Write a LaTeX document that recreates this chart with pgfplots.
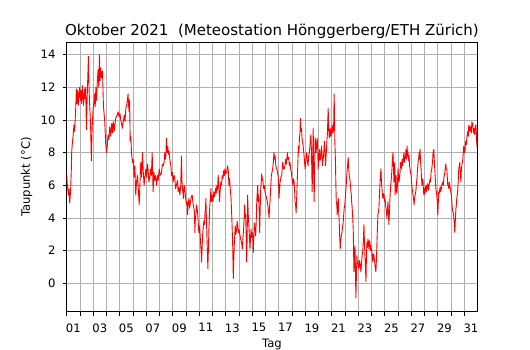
\documentclass[border=0pt]{standalone}
\usepackage{fontspec}
\setmainfont{DejaVu Sans}
\usepackage{pgfplots}
\pgfplotsset{compat=1.18}
\begin{document}
\begin{tikzpicture}
\begin{axis}[
  at={(0,0)}, anchor=south west,
  scale only axis, width=410.6pt, height=269.4pt,
  xmin=0, xmax=30.98, ymin=-1.74, ymax=14.76,
  axis line style={line width=1pt},
  tick align=outside,
  xtick pos=bottom, ytick pos=left,
  major tick length=4pt, minor tick length=4pt,
  tick style={black, line width=0.9pt},
  xtick={0.5,2.5,4.5,6.5,8.5,10.5,12.5,14.5,16.5,18.5,20.5,22.5,24.5,26.5,28.5,30.5},
  xticklabels={01,03,05,07,09,11,13,15,17,19,21,23,25,27,29,31},
  minor xtick={0,1,...,30},
  major x tick style={draw=none},
  xmajorgrids=false, xminorgrids=true,
  ytick={0,2,...,14},
  ymajorgrids=true,
  grid style={color=black!31, line width=0.9pt},
  minor grid style={color=black!31, line width=0.9pt},
  /pgf/number format/assume math mode=true,
  xticklabel style={font=\fontsize{11.6}{13}\selectfont, anchor=north, inner sep=0pt, yshift=-7.6pt},
  yticklabel style={font=\fontsize{11.6}{13}\selectfont, anchor=east, inner sep=0pt, xshift=-7pt},
  xlabel={Tag},
  xlabel style={font=\fontsize{11.6}{13}\selectfont, at={(axis description cs:0.5,-0.1347)}, anchor=base, yshift=0pt, xshift=0pt},
  ylabel={Taupunkt (°C)},
  ylabel style={font=\fontsize{11.6}{13}\selectfont, at={(axis description cs:-0.0894,0.5)}, anchor=base, rotate=0, xshift=0pt, yshift=0pt},
  title={Oktober 2021\ \ (Meteostation Hönggerberg/ETH Zürich)},
  title style={font=\fontsize{15}{18}\selectfont, at={(axis description cs:0.5,1.0011)}, anchor=base, yshift=0pt},
]
\addplot[color=red, line width=0.9pt, line join=round, mark=none] table {
0.00 6.7
0.05 6.0
0.13 5.4
0.18 5.8
0.23 4.9
0.30 5.8
0.35 7.0
0.38 8.1
0.43 8.6
0.48 9.0
0.55 9.7
0.60 9.3
0.68 10.7
0.73 11.9
0.78 11.0
0.83 11.8
0.88 10.9
0.93 11.6
0.98 12.0
1.03 11.2
1.08 11.8
1.13 11.0
1.18 12.1
1.23 11.4
1.28 10.9
1.33 11.9
1.38 11.3
1.43 12.0
1.49 9.4
1.55 11.5
1.64 13.9
1.69 11.8
1.74 10.8
1.80 9.8
1.86 7.5
1.92 9.5
1.99 10.7
2.05 11.0
2.10 11.6
2.15 10.8
2.20 12.0
2.25 11.2
2.30 12.2
2.37 13.1
2.42 12.0
2.47 14.0
2.52 12.4
2.57 13.2
2.62 12.6
2.70 13.0
2.77 10.9
2.87 9.9
2.94 8.6
3.00 8.0
3.06 8.4
3.12 9.1
3.18 8.8
3.25 9.6
3.32 9.0
3.40 9.8
3.45 9.2
3.52 9.9
3.58 9.3
3.65 9.8
3.70 10.1
3.80 10.3
3.88 10.5
3.95 10.2
4.02 10.4
4.08 10.0
4.14 9.8
4.20 9.5
4.28 10.0
4.35 10.3
4.40 9.9
4.46 10.7
4.55 11.0
4.63 11.6
4.67 10.9
4.71 10.5
4.75 11.2
4.79 8.7
4.84 9.0
4.89 8.0
4.96 7.4
5.02 7.6
5.08 6.5
5.14 7.2
5.21 5.4
5.27 6.2
5.34 6.6
5.40 5.8
5.47 4.8
5.52 6.0
5.59 7.4
5.65 6.5
5.72 8.0
5.78 6.8
5.84 6.0
5.90 6.5
5.97 7.0
6.03 6.5
6.08 7.3
6.14 7.0
6.20 6.2
6.27 6.5
6.33 7.0
6.39 6.6
6.45 8.0
6.52 5.6
6.58 6.8
6.64 6.3
6.70 6.6
6.78 6.0
6.85 6.6
6.90 6.3
6.98 7.0
7.05 6.6
7.15 6.8
7.22 7.3
7.28 7.2
7.35 7.4
7.40 8.0
7.47 7.6
7.53 8.9
7.57 8.0
7.62 8.4
7.68 7.9
7.72 8.1
7.78 7.6
7.86 7.2
7.91 6.6
7.97 6.8
8.03 6.2
8.10 6.6
8.16 6.4
8.22 5.8
8.28 6.0
8.35 6.3
8.41 5.6
8.48 5.9
8.54 5.4
8.60 5.9
8.66 7.8
8.70 6.2
8.74 5.8
8.81 5.2
8.86 6.0
8.91 5.8
8.97 5.2
9.04 4.8
9.08 5.0
9.12 4.2
9.17 4.9
9.22 5.2
9.28 4.6
9.34 5.0
9.40 5.3
9.47 5.4
9.53 4.9
9.59 4.6
9.64 4.4
9.67 3.1
9.71 4.0
9.75 4.2
9.80 4.8
9.87 4.4
9.92 3.8
9.97 3.1
10.03 3.5
10.10 2.5
10.14 2.0
10.17 1.3
10.21 2.0
10.25 2.9
10.30 3.4
10.35 3.8
10.40 3.6
10.43 4.2
10.47 4.6
10.50 5.2
10.54 4.0
10.58 2.9
10.62 1.8
10.65 0.9
10.69 2.0
10.73 3.3
10.77 4.2
10.80 4.8
10.84 5.2
10.88 5.8
10.92 5.0
10.98 5.4
11.04 5.0
11.10 5.6
11.16 5.3
11.23 5.8
11.28 5.5
11.33 6.0
11.38 5.7
11.43 6.6
11.48 6.0
11.53 5.0
11.58 5.7
11.63 6.2
11.68 6.0
11.74 6.6
11.79 6.4
11.84 6.9
11.89 6.6
11.94 7.0
12.00 6.7
12.06 6.8
12.10 7.0
12.14 7.2
12.19 6.9
12.24 6.0
12.29 6.4
12.34 5.8
12.40 5.2
12.45 4.2
12.52 2.5
12.57 0.3
12.61 1.5
12.65 2.5
12.72 3.5
12.77 3.0
12.82 3.3
12.86 3.8
12.90 3.6
12.95 3.1
13.00 3.3
13.06 3.0
13.13 2.7
13.19 2.5
13.25 2.1
13.29 2.7
13.33 3.1
13.38 3.8
13.43 4.8
13.47 4.0
13.50 4.2
13.54 3.0
13.58 1.3
13.62 3.0
13.65 5.4
13.70 4.2
13.76 3.3
13.80 2.6
13.83 2.1
13.87 2.8
13.91 3.3
13.96 2.8
14.01 3.1
14.05 2.6
14.08 1.9
14.12 2.9
14.16 3.7
14.21 3.3
14.26 2.9
14.30 3.8
14.34 5.0
14.38 5.6
14.41 6.0
14.45 5.0
14.49 5.4
14.53 4.2
14.56 3.1
14.60 4.6
14.64 5.8
14.68 6.2
14.71 6.7
14.76 6.4
14.81 6.2
14.86 5.8
14.91 6.0
14.96 5.6
15.02 5.4
15.08 5.2
15.14 5.0
15.20 4.6
15.27 4.0
15.30 4.6
15.34 5.0
15.39 5.8
15.44 6.6
15.49 6.8
15.54 7.0
15.59 7.4
15.64 8.0
15.68 7.6
15.72 7.8
15.78 7.2
15.85 7.0
15.90 6.8
15.95 6.6
15.99 6.0
16.02 5.2
16.06 5.8
16.10 6.2
16.16 6.5
16.22 6.6
16.26 7.0
16.30 7.4
16.36 7.0
16.43 7.0
16.48 7.3
16.53 7.6
16.58 7.3
16.65 8.0
16.70 7.6
16.75 7.7
16.80 7.2
16.85 7.4
16.90 7.0
16.95 6.8
17.00 6.4
17.06 6.0
17.11 6.4
17.16 6.2
17.20 5.6
17.23 5.0
17.27 4.8
17.31 4.3
17.36 5.4
17.41 6.6
17.45 7.6
17.48 8.4
17.52 8.0
17.56 8.9
17.60 9.2
17.63 10.1
17.67 9.3
17.71 9.5
17.75 9.0
17.78 8.7
17.84 8.4
17.89 8.0
17.94 7.5
17.99 7.0
18.05 7.6
18.11 8.0
18.16 7.5
18.21 7.2
18.26 7.8
18.31 8.0
18.36 8.5
18.42 9.1
18.47 8.0
18.52 5.6
18.56 7.5
18.60 9.5
18.63 7.0
18.67 5.0
18.71 7.2
18.75 8.9
18.78 8.3
18.82 8.0
18.86 8.6
18.90 8.9
18.94 8.2
18.97 7.0
19.03 7.8
19.08 8.2
19.11 7.5
19.15 7.6
19.19 8.0
19.23 8.4
19.27 7.8
19.30 7.2
19.34 7.6
19.38 7.8
19.41 8.2
19.45 8.7
19.49 8.0
19.53 7.2
19.57 7.8
19.60 8.2
19.64 8.8
19.68 9.3
19.70 10.0
19.73 10.7
19.77 9.5
19.81 8.9
19.84 9.3
19.88 9.5
19.92 9.0
19.96 9.1
20.00 9.5
20.03 9.7
20.07 9.2
20.11 9.3
20.14 9.6
20.18 11.6
20.21 10.0
20.23 8.7
20.28 7.4
20.31 6.0
20.34 5.0
20.38 4.8
20.41 4.2
20.45 4.8
20.49 5.2
20.52 4.4
20.56 3.8
20.60 2.8
20.64 2.1
20.67 2.6
20.71 2.9
20.75 3.0
20.79 3.3
20.82 3.5
20.86 3.7
20.90 4.2
20.94 4.6
20.98 4.8
21.02 5.2
21.05 5.6
21.09 6.0
21.13 6.6
21.17 7.0
21.21 7.4
21.24 7.7
21.28 7.0
21.32 6.6
21.36 6.4
21.39 6.2
21.43 5.8
21.47 5.4
21.50 5.0
21.54 4.6
21.58 4.0
21.62 3.3
21.65 1.8
21.67 0.7
21.71 1.6
21.75 2.3
21.78 1.0
21.82 -0.9
21.86 0.5
21.90 1.7
21.93 1.2
21.97 1.3
22.01 1.0
22.05 0.9
22.09 1.4
22.12 1.3
22.16 1.0
22.20 0.7
22.24 1.2
22.27 1.5
22.31 1.8
22.35 2.1
22.39 2.8
22.43 3.6
22.46 2.6
22.50 1.7
22.54 1.0
22.58 0.1
22.61 1.4
22.65 2.5
22.69 2.2
22.73 2.7
22.77 2.4
22.80 2.1
22.84 2.6
22.88 2.5
22.92 2.0
22.95 2.3
22.99 2.1
23.03 1.9
23.07 1.5
23.10 1.3
23.14 1.8
23.18 1.7
23.22 1.4
23.26 1.1
23.29 0.9
23.33 0.7
23.37 1.5
23.41 2.5
23.45 3.5
23.48 4.2
23.52 4.4
23.56 4.6
23.60 5.5
23.64 6.2
23.67 6.6
23.71 7.0
23.75 6.2
23.79 5.8
23.82 5.4
23.86 5.2
23.90 5.5
23.94 5.4
23.98 5.0
24.01 5.2
24.05 4.9
24.09 4.6
24.12 4.4
24.16 4.0
24.20 4.5
24.24 5.0
24.27 4.4
24.31 3.6
24.35 4.4
24.39 5.2
24.43 5.8
24.47 6.2
24.51 6.6
24.54 7.0
24.58 7.6
24.62 8.0
24.66 7.0
24.69 6.2
24.72 6.8
24.75 7.4
24.78 5.4
24.81 6.6
24.85 6.6
24.88 5.6
24.92 5.5
24.96 6.2
25.00 7.0
25.04 6.4
25.08 6.2
25.12 6.6
25.15 6.8
25.19 7.4
25.23 7.2
25.27 7.0
25.30 7.6
25.34 7.2
25.38 7.4
25.42 7.8
25.45 8.0
25.49 7.4
25.53 7.6
25.57 7.8
25.60 8.2
25.64 7.6
25.68 8.4
25.72 7.8
25.76 8.0
25.80 7.5
25.83 7.8
25.87 7.2
25.91 7.0
25.95 6.8
25.98 6.6
26.02 6.2
26.06 5.8
26.10 5.6
26.13 5.4
26.17 5.2
26.21 4.8
26.25 5.2
26.28 5.4
26.32 5.5
26.36 5.8
26.40 6.2
26.44 6.6
26.47 7.0
26.51 7.4
26.55 7.6
26.59 8.0
26.62 7.6
26.66 8.2
26.70 7.4
26.74 7.0
26.77 6.4
26.81 6.0
26.85 6.4
26.89 6.2
26.92 5.6
26.96 5.4
27.00 5.8
27.04 5.5
27.08 5.9
27.12 6.0
27.15 5.6
27.19 5.8
27.23 6.1
27.27 6.0
27.31 5.7
27.34 6.0
27.38 6.2
27.42 6.4
27.46 6.2
27.49 6.8
27.53 6.9
27.57 7.2
27.61 7.5
27.64 8.0
27.70 8.2
27.73 7.6
27.77 7.0
27.81 6.4
27.85 5.8
27.89 5.6
27.92 5.4
27.96 5.0
28.00 4.2
28.04 5.0
28.07 5.6
28.11 5.5
28.15 5.8
28.19 5.9
28.22 5.6
28.26 5.8
28.30 6.0
28.34 6.1
28.38 6.2
28.41 6.0
28.45 6.4
28.49 6.6
28.53 6.8
28.56 7.0
28.60 7.3
28.64 7.0
28.68 7.0
28.71 6.6
28.75 6.0
28.79 6.0
28.83 5.8
28.86 6.2
28.90 6.0
28.94 5.8
28.98 5.6
29.02 5.4
29.06 5.0
29.09 4.6
29.13 4.4
29.17 4.3
29.21 4.0
29.25 3.6
29.28 3.1
29.32 3.8
29.36 4.5
29.40 4.8
29.43 5.2
29.47 5.4
29.51 5.8
29.55 6.4
29.58 7.0
29.62 7.2
29.66 7.4
29.70 6.8
29.74 6.2
29.77 6.8
29.81 7.2
29.85 7.4
29.89 7.6
29.92 8.0
29.96 8.4
30.00 8.0
30.04 8.0
30.07 8.4
30.11 8.7
30.15 8.5
30.19 8.9
30.22 9.1
30.26 9.3
30.30 9.0
30.34 9.7
30.38 9.5
30.41 9.3
30.45 9.6
30.49 9.5
30.53 9.2
30.57 9.9
30.60 9.7
30.64 9.8
30.68 9.2
30.72 9.5
30.76 9.3
30.79 9.1
30.83 9.6
30.87 9.7
30.91 9.2
30.94 8.5
30.98 8.3
};
\end{axis}
\pgfresetboundingbox
\path[use as bounding box] (-66.7pt,-38.3pt) rectangle (463.3pt,311.7pt);
\end{tikzpicture}
\end{document}
